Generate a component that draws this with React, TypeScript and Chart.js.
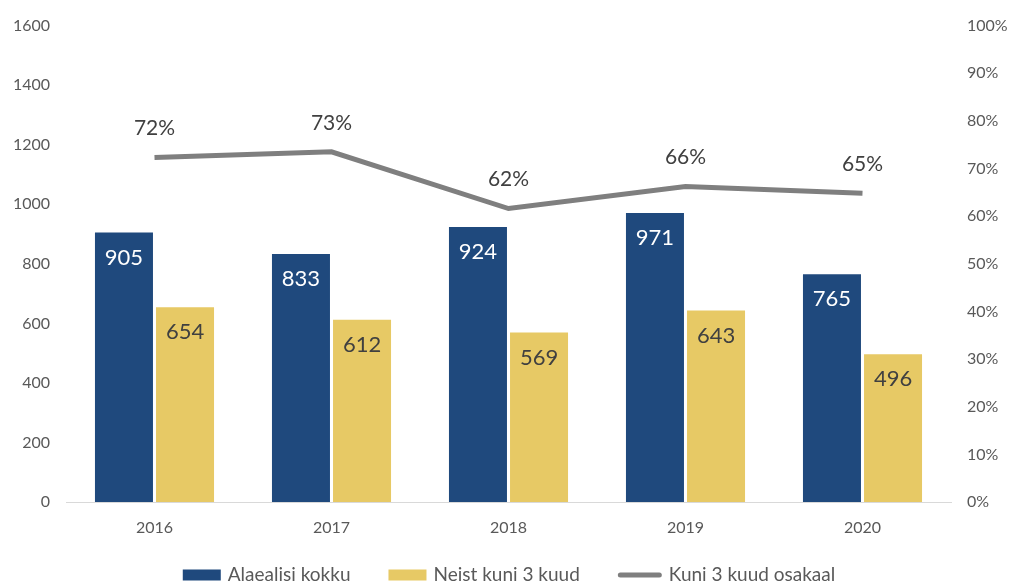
import React, { useEffect, useRef } from "react";
import { Chart, registerables } from "chart.js";

Chart.register(...registerables);

const years = ["2016", "2017", "2018", "2019", "2020"];
const totalMinors = [905, 833, 924, 971, 765];
const upTo3Months = [654, 612, 569, 643, 496];
const shareUpTo3 = [0.723, 0.735, 0.616, 0.662, 0.648];
const shareLabels = ["72%", "73%", "62%", "66%", "65%"];
const seriesNames = ["Alaealisi kokku", "Neist kuni 3 kuud", "Kuni 3 kuud osakaal"];

const FONT = "Lato, 'Noto Sans', sans-serif";
const BLUE = "#1F497D";
const YELLOW = "#E7C965";
const GRAY = "#7F7F7F";

const labelPlugin = {
  id: "valueLabels",
  afterDatasetsDraw(chart: any) {
    const ctx = chart.ctx;
    ctx.save();
    ctx.textAlign = "center";
    ctx.textBaseline = "middle";
    chart.data.datasets.forEach((ds: any, di: number) => {
      const meta = chart.getDatasetMeta(di);
      meta.data.forEach((el: any, i: number) => {
        if (ds.type === "line") {
          ctx.font = `21px ${FONT}`;
          ctx.fillStyle = "#404040";
          ctx.fillText(shareLabels[i], el.x, el.y - 29);
        } else {
          ctx.font = `22px ${FONT}`;
          ctx.fillStyle = di === 1 ? "#ffffff" : "#404040";
          ctx.fillText(String(ds.data[i]), el.x, el.y + 25);
        }
      });
    });
    ctx.restore();
  },
};

const legendPlugin = {
  id: "bottomLegend",
  afterDraw(chart: any) {
    const ctx = chart.ctx;
    const items = [
      { text: seriesNames[0], color: BLUE, line: false, w: 38 },
      { text: seriesNames[1], color: YELLOW, line: false, w: 38 },
      { text: seriesNames[2], color: GRAY, line: true, w: 44 },
    ];
    const gapText = 7;
    const gapItem = 38;
    ctx.save();
    ctx.font = `19px ${FONT}`;
    ctx.textBaseline = "middle";
    ctx.textAlign = "left";
    const widths = items.map((it) => it.w + gapText + ctx.measureText(it.text).width);
    const total = widths.reduce((a, b) => a + b, 0) + gapItem * (items.length - 1);
    let x = chart.width / 2 - total / 2 + 4;
    const y = 575;
    items.forEach((it, i) => {
      if (it.line) {
        ctx.strokeStyle = it.color;
        ctx.lineWidth = 5;
        ctx.lineCap = "round";
        ctx.beginPath();
        ctx.moveTo(x + 2.5, y);
        ctx.lineTo(x + it.w - 2.5, y);
        ctx.stroke();
      } else {
        ctx.fillStyle = it.color;
        ctx.fillRect(x, y - 5.5, it.w, 11);
      }
      ctx.fillStyle = "#595959";
      ctx.fillText(it.text, x + it.w + gapText, y);
      x += widths[i] + gapItem;
    });
    ctx.restore();
  },
};

export default function App() {
  const ref = useRef<HTMLCanvasElement>(null);
  useEffect(() => {
    document.body.style.margin = "0";
    const chart = new Chart(ref.current!, {
      type: "bar",
      data: {
        labels: years,
        datasets: [
          {
            type: "line",
            label: seriesNames[2],
            data: shareUpTo3,
            yAxisID: "y1",
            borderColor: GRAY,
            backgroundColor: GRAY,
            borderWidth: 5,
            pointRadius: 0,
            tension: 0,
            order: 0,
          } as any,
          {
            label: seriesNames[0],
            data: totalMinors,
            backgroundColor: BLUE,
            yAxisID: "y",
            categoryPercentage: 0.69,
            barPercentage: 0.95,
            order: 1,
          },
          {
            label: seriesNames[1],
            data: upTo3Months,
            backgroundColor: YELLOW,
            yAxisID: "y",
            categoryPercentage: 0.69,
            barPercentage: 0.95,
            order: 1,
          },
        ],
      },
      options: {
        responsive: false,
        animation: false,
        layout: { autoPadding: false, padding: { top: 22, bottom: 41, left: 0, right: 0 } },
        plugins: {
          tooltip: { enabled: false },
          legend: { display: false },
        },
        scales: {
          x: {
            grid: { display: false, drawTicks: false },
            border: { display: true, color: "#D9D9D9", width: 1 },
            ticks: { color: "#595959", font: { family: FONT, size: 16 }, padding: 16 },
            afterFit: (s: any) => { s.height = 42; },
          },
          y: {
            position: "left",
            min: 0,
            max: 1600,
            grid: { display: false, drawTicks: false },
            border: { display: false },
            ticks: {
              stepSize: 200,
              color: "#595959",
              font: { family: FONT, size: 16 },
              padding: 16,
              callback: (v: any) => String(v),
            },
            afterFit: (s: any) => { s.width = 66; },
          },
          y1: {
            position: "right",
            min: 0,
            max: 1,
            grid: { display: false, drawTicks: false },
            border: { display: false },
            ticks: {
              stepSize: 0.1,
              color: "#595959",
              font: { family: FONT, size: 16 },
              padding: 16,
              callback: (v: any) => Math.round(Number(v) * 100) + "%",
            },
            afterFit: (s: any) => { s.width = 59; },
          },
        },
      },
      plugins: [labelPlugin, legendPlugin],
    });
    return () => chart.destroy();
  }, []);
  return (
    <div style={{ width: 1010, height: 585 }}>
      <canvas ref={ref} width={1010} height={585} />
    </div>
  );
}
